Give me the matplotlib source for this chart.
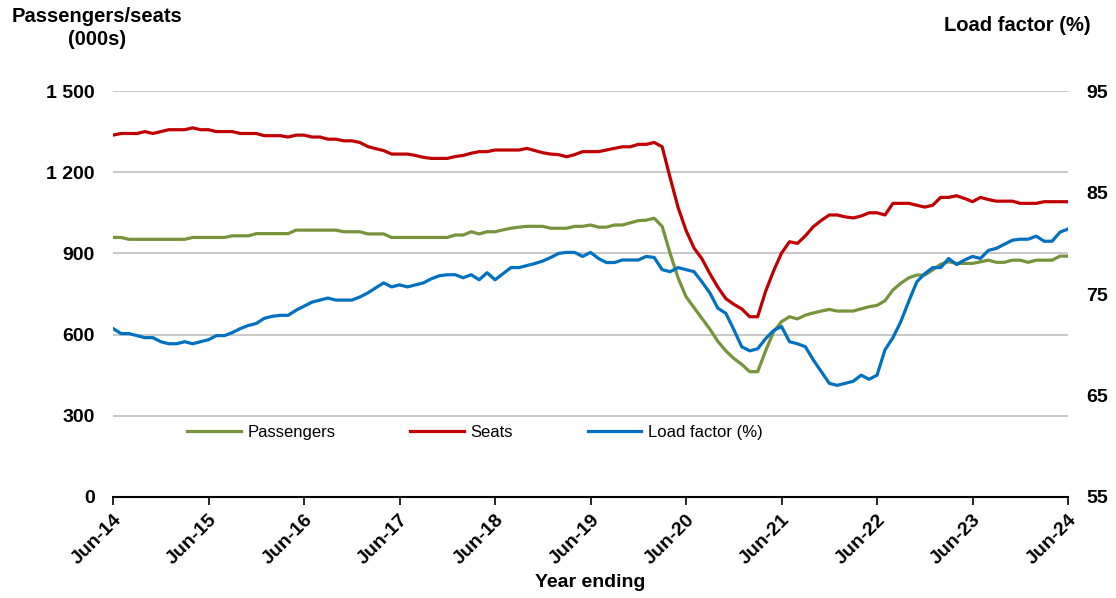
import matplotlib.pyplot as plt
from matplotlib.ticker import FuncFormatter

# monthly values, Jun-14 .. Jun-24 (year ending)
passengers = [959, 959, 952, 952, 952, 952, 952, 952, 952, 952,
              959, 959, 959, 959, 959, 965, 965, 965, 973, 973,
              973, 973, 973, 986, 986, 986, 986, 986, 986, 980,
              980, 980, 972, 972, 972, 959, 959, 959, 959, 959,
              959, 959, 959, 968, 968, 980, 972, 980, 980, 987,
              993, 997, 1000, 1000, 1000, 993, 993, 993, 1000, 1000,
              1005, 997, 997, 1005, 1005, 1013, 1021, 1023, 1030, 1000,
              900, 810, 740, 700, 660, 620, 575, 540, 512, 490,
              463, 463, 540, 610, 648, 666, 658, 672, 680, 687,
              693, 687, 687, 687, 695, 703, 708, 725, 765, 790,
              810, 820, 820, 839, 860, 869, 863, 863, 863, 869,
              875, 867, 867, 875, 875, 867, 875, 875, 875, 890,
              890]

seats = [1337, 1343, 1343, 1343, 1350, 1343, 1350, 1357, 1357, 1357,
         1364, 1357, 1357, 1350, 1350, 1350, 1343, 1343, 1343, 1335,
         1335, 1335, 1330, 1337, 1337, 1330, 1330, 1322, 1322, 1316,
         1316, 1310, 1295, 1287, 1280, 1267, 1267, 1267, 1262, 1255,
         1251, 1251, 1251, 1258, 1262, 1270, 1276, 1276, 1282, 1282,
         1282, 1282, 1288, 1280, 1272, 1267, 1265, 1257, 1265, 1276,
         1276, 1276, 1282, 1288, 1294, 1294, 1303, 1303, 1310, 1294,
         1180, 1070, 985, 920, 880, 825, 775, 733, 712, 695,
         666, 666, 760, 835, 901, 943, 937, 965, 999, 1022,
         1042, 1042, 1035, 1031, 1038, 1050, 1050, 1042, 1085, 1085,
         1085, 1078, 1071, 1078, 1107, 1107, 1113, 1103, 1091, 1107,
         1099, 1093, 1093, 1093, 1085, 1085, 1085, 1091, 1091, 1091,
         1091]

load_factor = [71.6, 71.1, 71.1, 70.9, 70.7, 70.7, 70.3, 70.1, 70.1, 70.3,
               70.1, 70.3, 70.5, 70.9, 70.9, 71.2, 71.6, 71.9, 72.1, 72.6,
               72.8, 72.9, 72.9, 73.4, 73.8, 74.2, 74.4, 74.6, 74.4, 74.4,
               74.4, 74.7, 75.1, 75.6, 76.1, 75.7, 75.9, 75.7, 75.9, 76.1,
               76.5, 76.8, 76.9, 76.9, 76.6, 76.9, 76.4, 77.1, 76.4, 77.0,
               77.6, 77.6, 77.8, 78.0, 78.25, 78.6, 79.0, 79.1, 79.1, 78.7,
               79.1, 78.5, 78.1, 78.1, 78.35, 78.35, 78.35, 78.7, 78.6, 77.4,
               77.2, 77.6, 77.4, 77.2, 76.2, 75.1, 73.6, 73.1, 71.5, 69.8,
               69.4, 69.6, 70.6, 71.4, 71.8, 70.3, 70.1, 69.8, 68.5, 67.35,
               66.2, 66.0, 66.2, 66.4, 67.0, 66.6, 67.0, 69.5, 70.7, 72.3,
               74.3, 76.2, 77.0, 77.6, 77.6, 78.5, 77.9, 78.35, 78.7, 78.5,
               79.3, 79.5, 79.9, 80.3, 80.4, 80.4, 80.7, 80.2, 80.2, 81.1,
               81.4]

tick_labels = ["Jun-14", "Jun-15", "Jun-16", "Jun-17", "Jun-18", "Jun-19",
               "Jun-20", "Jun-21", "Jun-22", "Jun-23", "Jun-24"]

plt.rcParams['font.family'] = ['Liberation Sans', 'DejaVu Sans']

months = list(range(len(seats)))

fig = plt.figure(figsize=(11.16, 5.98), dpi=100)
ax = fig.add_axes([0.1013, 0.1689, 0.8557, 0.6789])
ax2 = ax.twinx()

l1, = ax.plot(months, passengers, color="#77933C", lw=2.3, label="Passengers")
l2, = ax.plot(months, seats, color="#C00000", lw=2.3, label="Seats")
l3, = ax2.plot(months, load_factor, color="#0070C0", lw=2.3, label="Load factor (%)")

ax.set_xlim(0, 120)
ax.set_ylim(0, 1500)
ax.set_yticks(range(0, 1501, 300))
ax.yaxis.set_major_formatter(FuncFormatter(lambda v, p: f"{int(v):,}".replace(",", " ")))
ax.grid(axis="y", color="#BFBFBF", lw=1.2)
ax.set_axisbelow(True)

ax2.set_ylim(55, 95)
ax2.set_yticks(range(55, 96, 10))

for a in (ax, ax2):
    for s in ("left", "right", "top"):
        a.spines[s].set_visible(False)
ax.spines["bottom"].set_linewidth(1.5)
ax2.spines["bottom"].set_visible(False)

ax.set_xticks(range(0, 121, 12))
ax.set_xticklabels(tick_labels, rotation=45, ha="right", rotation_mode="anchor",
                   fontsize=14, fontweight="bold")
ax.tick_params(axis="x", direction="out", length=6, width=1.2, pad=4)
ax.tick_params(axis="y", length=0, pad=13, labelsize=14)
ax2.tick_params(axis="y", length=0, pad=13, labelsize=14)
for t in ax.get_yticklabels() + ax2.get_yticklabels():
    t.set_fontweight("bold")

ax.set_xlabel("Year ending", fontsize=14, fontweight="bold", labelpad=5)

fig.text(0.087, 0.953, "Passengers/seats\n(000s)", ha="center", va="center",
         fontsize=14.5, fontweight="bold", linespacing=1.25)
fig.text(0.977, 0.958, "Load factor (%)", ha="right", va="center",
         fontsize=14.5, fontweight="bold")

ax2.legend(handles=[l1, l2, l3], loc="center", bbox_to_anchor=(0.379, 0.16),
           ncol=3, frameon=False, fontsize=12, handlelength=3.2,
           columnspacing=4.5, handletextpad=0.4)

fig.savefig("out.png", dpi=100)
